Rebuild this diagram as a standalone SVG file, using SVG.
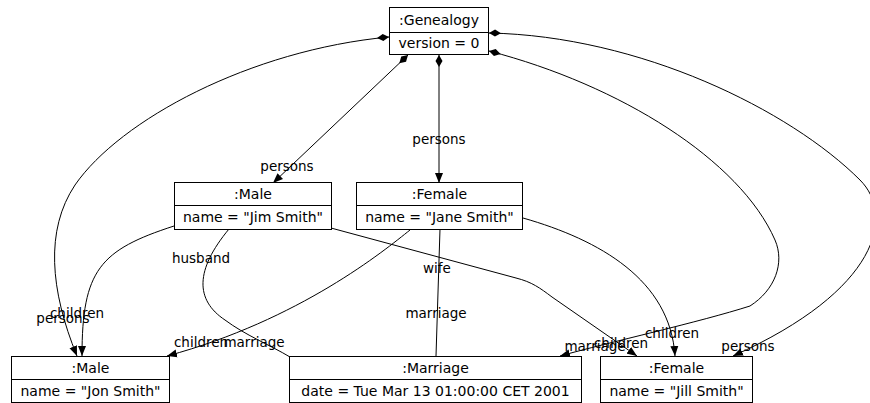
<svg xmlns="http://www.w3.org/2000/svg" width="870" height="403" viewBox="0 0 870 403">
<style>
.box{fill:#fff;stroke:#000;stroke-width:1}
.div{stroke:#000;stroke-width:1}
.nt{font-family:"DejaVu Sans",sans-serif;font-size:14px;text-anchor:middle;fill:#000}
.lb{font-family:"DejaVu Sans",sans-serif;font-size:13.5px;text-anchor:middle;fill:#000}
.e{fill:none;stroke:#000;stroke-width:1}
.comp{marker-start:url(#dia)}
.arr{marker-end:url(#arr)}
</style>
<defs>
<marker id="dia" markerWidth="14" markerHeight="8" refX="0" refY="4" orient="auto" markerUnits="userSpaceOnUse"><path d="M0,4 L6,0.5 L12,4 L6,7.5 Z" fill="#000"/></marker>
<marker id="arr" markerWidth="12" markerHeight="9" refX="10" refY="4.5" orient="auto" markerUnits="userSpaceOnUse"><path d="M0,0.5 L10,4.5 L0,8.5 Z" fill="#000"/></marker>
</defs>
<rect width="870" height="403" fill="#fff"/>
<g id="connectors">
<path class="e comp arr" d="M408,55 L273,183"/>
<path class="e comp arr" d="M439,55 L439,183"/>
<path class="e comp arr" d="M389,37 C250,50 120,120 75,185 C45,230 50,290 77,356"/>
<path class="e comp arr" d="M489,33 C640,36 790,110 860,180 C895,215 880,290 733,356"/>
<path class="e comp arr" d="M489,51 C620,85 740,160 775,240 C785,263 775,290 750,306 C700,322 610,342 560,356"/>
<path class="e arr" d="M174,226 C100,250 82,270 82,356"/>
<path class="e arr" d="M410,230 C385,250 300,320 167,356"/>
<path class="e" d="M229,229 C195,270 195,300 225,320 C245,335 270,345 290,357"/>
<path class="e" d="M440,229 L436,356"/>
<path class="e arr" d="M331,228 L516,278 C532,282 540,288 552,297 L637,356"/>
<path class="e arr" d="M523,218 C600,240 670,280 675,356"/>
<text class="lb" x="287" y="171">persons</text>
<text class="lb" x="439" y="144">persons</text>
<text class="lb" x="63" y="323">persons</text>
<text class="lb" x="77" y="318">children</text>
<text class="lb" x="201" y="263">husband</text>
<text class="lb" x="201" y="347">children</text>
<text class="lb" x="254" y="347">marriage</text>
<text class="lb" x="437" y="273">wife</text>
<text class="lb" x="436" y="318">marriage</text>
<text class="lb" x="595" y="351">marriage</text>
<text class="lb" x="621" y="348">children</text>
<text class="lb" x="672" y="338">children</text>
<text class="lb" x="748" y="351">persons</text>
</g>
<g id="genealogy">
<rect class="box" x="389.5" y="7.5" width="99" height="47"/>
<line class="div" x1="389.5" y1="32.5" x2="488.5" y2="32.5"/>
<text class="nt" x="439" y="25">:Genealogy</text>
<text class="nt" x="439" y="48">version = 0</text>
</g>
<g id="jim">
<rect class="box" x="174.5" y="182.5" width="157" height="47"/>
<line class="div" x1="174.5" y1="205.5" x2="331.5" y2="205.5"/>
<text class="nt" x="253" y="199">:Male</text>
<text class="nt" x="253" y="222">name = "Jim Smith"</text>
</g>
<g id="jane">
<rect class="box" x="356.5" y="182.5" width="166" height="47"/>
<line class="div" x1="356.5" y1="205.5" x2="522.5" y2="205.5"/>
<text class="nt" x="439.5" y="199">:Female</text>
<text class="nt" x="439.5" y="222">name = "Jane Smith"</text>
</g>
<g id="jon">
<rect class="box" x="11.5" y="356.5" width="158" height="46"/>
<line class="div" x1="11.5" y1="379.5" x2="169.5" y2="379.5"/>
<text class="nt" x="90.5" y="373">:Male</text>
<text class="nt" x="90.5" y="396">name = "Jon Smith"</text>
</g>
<g id="marriage">
<rect class="box" x="289.5" y="356.5" width="292" height="46"/>
<line class="div" x1="289.5" y1="379.5" x2="581.5" y2="379.5"/>
<text class="nt" x="435.5" y="373">:Marriage</text>
<text class="nt" x="435.5" y="396">date = Tue Mar 13 01:00:00 CET 2001</text>
</g>
<g id="jill">
<rect class="box" x="600.5" y="356.5" width="152" height="46"/>
<line class="div" x1="600.5" y1="379.5" x2="752.5" y2="379.5"/>
<text class="nt" x="676.5" y="373">:Female</text>
<text class="nt" x="676.5" y="396">name = "Jill Smith"</text>
</g>
</svg>
